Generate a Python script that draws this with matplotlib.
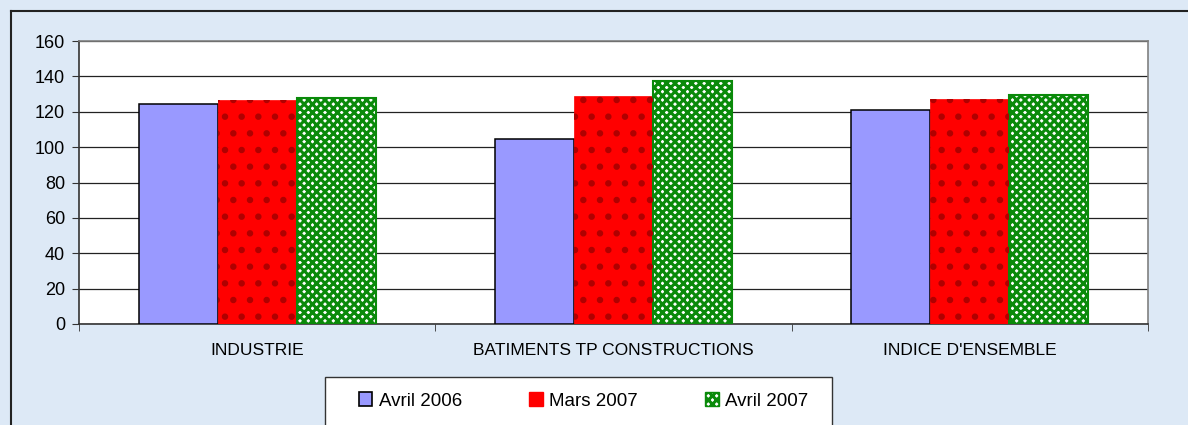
import numpy as np
import matplotlib
matplotlib.use('Agg')
import matplotlib.pyplot as plt
from matplotlib.patches import Rectangle
from matplotlib.lines import Line2D

categories = ['INDUSTRIE', 'BATIMENTS TP CONSTRUCTIONS', "INDICE D'ENSEMBLE"]
series = ['Avril 2006', 'Mars 2007', 'Avril 2007']
avril_2006 = [124.5, 104.4, 121.0]
mars_2007 = [126.4, 128.9, 127.2]
avril_2007 = [127.7, 137.5, 129.4]
yticks = [0, 20, 40, 60, 80, 100, 120, 140, 160]

plt.rcParams['font.family'] = ['Liberation Sans', 'DejaVu Sans']
plt.rcParams['hatch.linewidth'] = 2.2

bg = '#dde9f6'
fig = plt.figure(figsize=(11.88, 4.25), dpi=100)
fig.patch.set_facecolor(bg)

W, H = 1188, 425
ax = fig.add_axes([79 / W, 1 - 324 / H, (1148 - 79) / W, (324 - 41) / H])
ax.set_facecolor('white')

x = np.arange(len(categories))
w = 0.222

ax.bar(x - w, avril_2006, w, color='#9999ff', edgecolor='black', linewidth=1.1, zorder=3)
ax.bar(x, mars_2007, w, color='#ff0000', edgecolor='#ff0000', linewidth=0.5, zorder=3)
ax.bar(x, mars_2007, w, color='none', edgecolor='#b00000', hatch='.', linewidth=0, zorder=4)
ax.bar(x + w, avril_2007, w, color='white', edgecolor='#0a8a0a', hatch='xxxx', linewidth=1.5, zorder=3)

ax.set_xlim(-0.5, 2.5)
ax.set_ylim(0, 160)
ax.set_yticks(yticks)
ax.set_yticklabels([str(v) for v in yticks], fontsize=13)
ax.yaxis.grid(True, color='#222222', linewidth=0.9, zorder=0)
ax.set_axisbelow(True)

ax.set_xticks(x)
ax.set_xticklabels(categories, fontsize=12.5)
ax.set_xticks([-0.5, 0.5, 1.5, 2.5], minor=True)
ax.tick_params(axis='x', which='major', length=0, pad=14)
ax.tick_params(axis='x', which='minor', length=5, direction='out', color='#333333')
ax.tick_params(axis='y', length=5, direction='out', color='#333333', pad=5)

for s in ['top', 'right']:
    ax.spines[s].set_color('#808080')
    ax.spines[s].set_linewidth(1.2)
for s in ['left', 'bottom']:
    ax.spines[s].set_color('#333333')
    ax.spines[s].set_linewidth(1.2)

# outer chart frame
fig.add_artist(Line2D([11 / W, 11 / W], [0, 1 - 11 / H], color='#222222', linewidth=1.5, transform=fig.transFigure))
fig.add_artist(Line2D([11 / W, 1], [1 - 11 / H, 1 - 11 / H], color='#222222', linewidth=1.5, transform=fig.transFigure))

# legend box
fig.add_artist(Rectangle((325 / W, -0.05), (832 - 325) / W, (1 - 377 / H) + 0.05,
                         facecolor='white', edgecolor='#333333', linewidth=1.0, transform=fig.transFigure))

handles = [
    Rectangle((0, 0), 1, 1, facecolor='#9999ff', edgecolor='black', linewidth=1.2),
    Rectangle((0, 0), 1, 1, facecolor='#ff0000', edgecolor='#ff0000'),
    Rectangle((0, 0), 1, 1, facecolor='white', edgecolor='#0a8a0a', hatch='xxxx'),
]
leg = fig.legend(handles, series, loc='center left', bbox_to_anchor=(359 / W, 1 - 401 / H),
                 ncol=3, frameon=False, fontsize=13.5, handlelength=0.7, handleheight=0.7,
                 handletextpad=0.35, columnspacing=3.6, borderaxespad=0, borderpad=0)

fig.savefig('out.png', dpi=100, facecolor=bg)
